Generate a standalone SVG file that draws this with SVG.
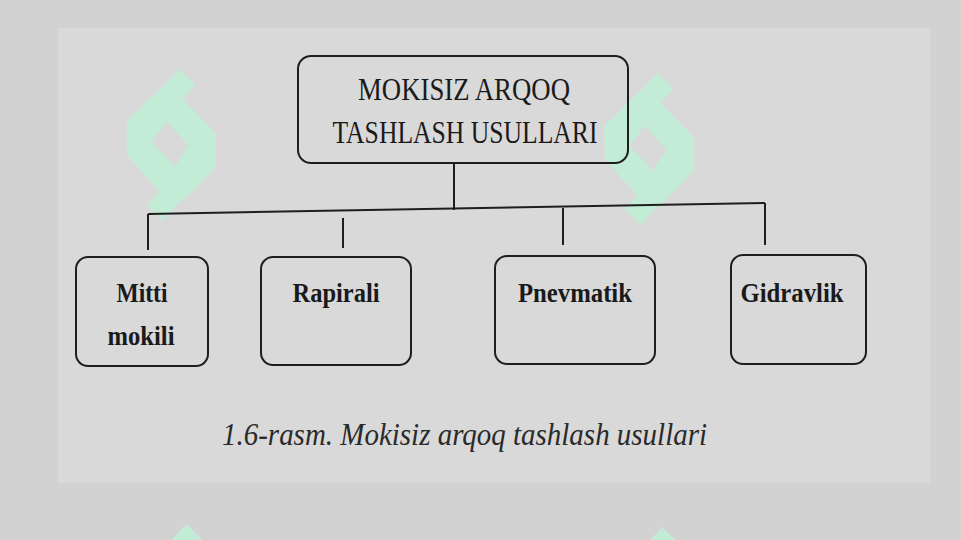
<svg xmlns="http://www.w3.org/2000/svg" width="961" height="540" viewBox="0 0 961 540">
<style>
.box{fill:none;stroke:#1e1e1e;stroke-width:2}
.lbl{font-family:"Liberation Serif","Times New Roman",serif;fill:#1a1a1a;text-anchor:middle}
.top{font-size:31px}
.sub{font-size:27px;font-weight:bold}
.cap{font-family:"Liberation Serif","Times New Roman",serif;font-style:italic;font-size:32px;fill:#2a2a2a}
.logo{fill:#c3ecd6;fill-rule:evenodd}
#connectors path{fill:none;stroke:#1e1e1e;stroke-width:2}
</style>
<defs>
<path id="logoShape" class="logo" d="M178 58 L226 104 L188 146 L287 250 L288 350 L230 410 L200 440 L165 470 L128 512 L80 465 L118 425 L20 315 L20 215 L75 160 L130 108 Z M140 215 L205 285 L165 350 L95 275 Z"/>
</defs>
<rect x="0" y="0" width="961" height="540" fill="#d2d2d2"/>
<rect x="58" y="28" width="872" height="455" fill="#d9d9d9"/>
<g id="watermarks">
<use href="#logoShape" transform="translate(120,50) scale(0.3333)"/>
<use href="#logoShape" transform="translate(598,54) scale(0.3333)"/>
<use href="#logoShape" transform="translate(127,505) scale(0.3333)"/>
<use href="#logoShape" transform="translate(603,508) scale(0.3333)"/>
</g>
<g id="connectors">
<path d="M454 163 L454 210"/>
<path d="M148 214 L765 203"/>
<path d="M148 214 L148 250"/>
<path d="M343 218 L343 248"/>
<path d="M563 208 L563 245"/>
<path d="M765 203 L765 245"/>
</g>
<g id="root">
<rect class="box" x="298" y="56" width="330" height="107" rx="13"/>
<text class="lbl top" x="464" y="100" textLength="212" lengthAdjust="spacingAndGlyphs">MOKISIZ ARQOQ</text>
<text class="lbl top" x="465" y="143" textLength="265" lengthAdjust="spacingAndGlyphs">TASHLASH USULLARI</text>
</g>
<g id="mitti">
<rect class="box" x="76" y="257" width="132" height="109" rx="12"/>
<text class="lbl sub" x="142" y="302" textLength="51" lengthAdjust="spacingAndGlyphs">Mitti</text>
<text class="lbl sub" x="141" y="345" textLength="67" lengthAdjust="spacingAndGlyphs">mokili</text>
</g>
<g id="rapirali">
<rect class="box" x="261" y="257" width="150" height="108" rx="12"/>
<text class="lbl sub" x="336" y="302" textLength="87" lengthAdjust="spacingAndGlyphs">Rapirali</text>
</g>
<g id="pnevmatik">
<rect class="box" x="495" y="256" width="160" height="108" rx="12"/>
<text class="lbl sub" x="575" y="302" textLength="114" lengthAdjust="spacingAndGlyphs">Pnevmatik</text>
</g>
<g id="gidravlik">
<rect class="box" x="731" y="255" width="135" height="109" rx="12"/>
<text class="lbl sub" x="792" y="302" textLength="103" lengthAdjust="spacingAndGlyphs">Gidravlik</text>
</g>
<text class="cap" x="222" y="445" textLength="485" lengthAdjust="spacingAndGlyphs">1.6-rasm. Mokisiz arqoq tashlash usullari</text>
</svg>
